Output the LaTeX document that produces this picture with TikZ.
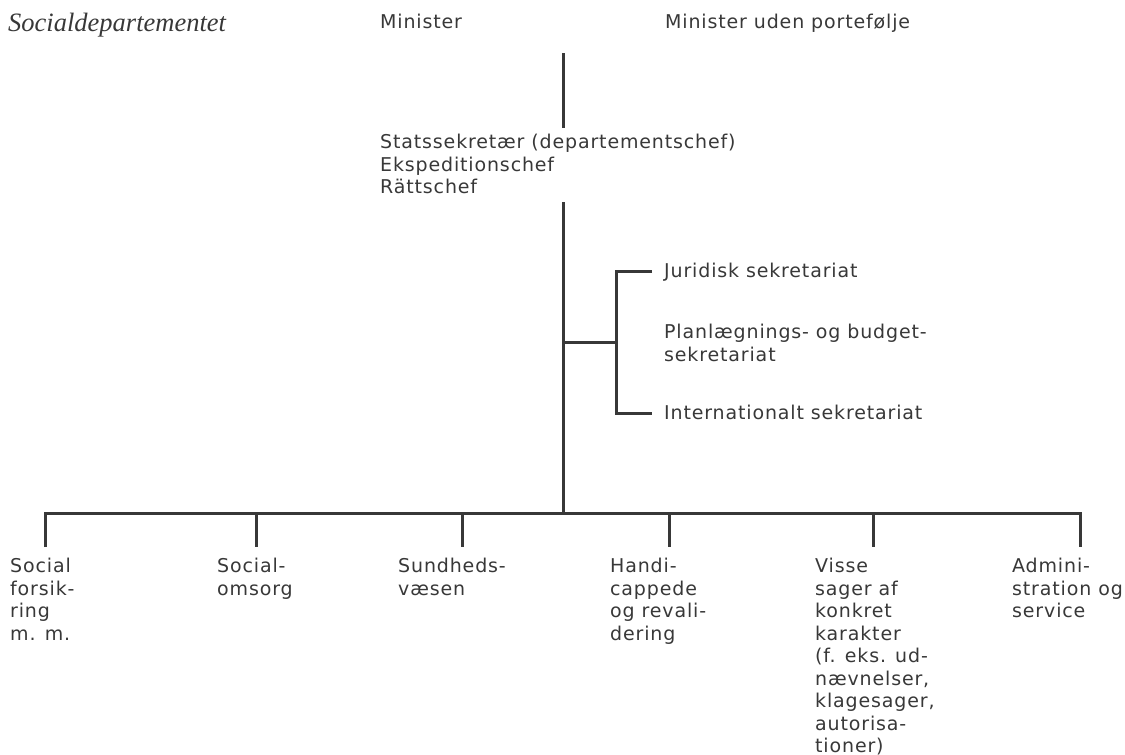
\documentclass[tikz,border=0pt]{standalone}
\usepackage{fontspec}
\setmainfont{DejaVu Sans}[LetterSpace=4.5]
\newfontfamily\deptfont{Liberation Serif}
\definecolor{ink}{HTML}{383838}

\begin{document}
\begin{tikzpicture}[x=1pt,y=-1pt,
  lbl/.style={anchor=base west, inner sep=0pt, text=ink,
    font=\fontsize{19}{22.5}\selectfont},
  block/.style={lbl, anchor=north west, align=left},
  bar/.style={draw=ink, line width=3pt, line join=miter}]
\useasboundingbox (0,0) rectangle (1125,755);

% heading row
\node[anchor=base west, inner sep=0pt, text=ink,
  font=\deptfont\itshape\fontsize{26.5}{30}\selectfont] (dept) at (8,31) {Socialdepartementet};
\node[lbl] (min) at (380,28.5) {Minister};
\node[lbl] (minup) at (665,28.5) {Minister uden portefølje};

% management
\node[block] (chef) at (380,134)
{Statssekretær (departementschef)\\
Ekspeditionschef\\
Rättschef};

\coordinate (s1) at (563,53);
\coordinate (s2) at (563,128);
\path[bar] (s1) -- (s2);

\coordinate (m1) at (563,202);
\coordinate (m2) at (563,513);
\path[bar] (m1) -- (m2);

% secretariats
\coordinate (j0) at (563,342);
\coordinate (j1) at (616,342);
\coordinate (jt) at (616,271);
\coordinate (jb) at (616,413);
\coordinate (jte) at (652,271);
\coordinate (jbe) at (652,413);
\path[bar] (j0) -- (j1);
\path[bar] (jte) -- (jt) -- (jb) -- (jbe);

\node[lbl] (jur) at (664,277.5) {Juridisk sekretariat};
\node[block] (plan) at (664,324)
{Planlægnings- og budget-\\
sekretariat};
\node[lbl] (int) at (664,419.5) {Internationalt sekretariat};

% offices
\coordinate (b1) at (45,513);
\coordinate (b2) at (256,513);
\coordinate (b3) at (462,513);
\coordinate (b4) at (669,513);
\coordinate (b5) at (873,513);
\coordinate (b6) at (1080,513);
\coordinate (e1) at (45,547);
\coordinate (e2) at (256,547);
\coordinate (e3) at (462,547);
\coordinate (e4) at (669,547);
\coordinate (e5) at (873,547);
\coordinate (e6) at (1080,547);
\path[bar] (e1) -- (b1) -- (b6) -- (e6);
\path[bar] (b2) -- (e2);
\path[bar] (b3) -- (e3);
\path[bar] (b4) -- (e4);
\path[bar] (b5) -- (e5);

\node[block] (forsik) at (10,558)
{Social\\
forsik-\\
ring\\
m. m.};
\node[block] (omsorg) at (217,558)
{Social-\\
omsorg};
\node[block] (sund) at (398,558)
{Sundheds-\\
væsen};
\node[block] (handi) at (610,558)
{Handi-\\
cappede\\
og revali-\\
dering};
\node[block] (visse) at (815,558)
{Visse\\
sager af\\
konkret\\
karakter\\
(f. eks. ud-\\
nævnelser,\\
klagesager,\\
autorisa-\\
tioner)};
\node[block] (admin) at (1012,558)
{Admini-\\
stration og\\
service};
\end{tikzpicture}
\end{document}
